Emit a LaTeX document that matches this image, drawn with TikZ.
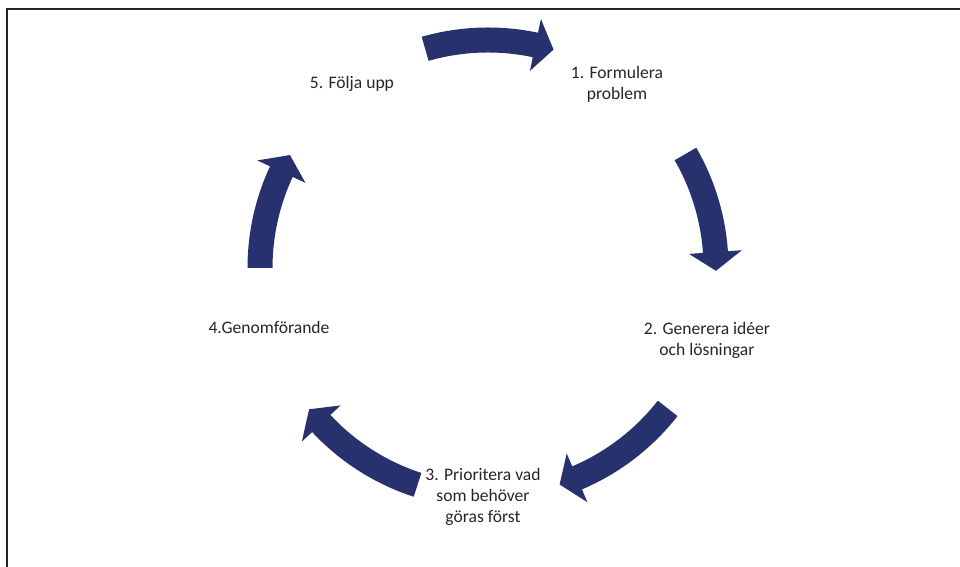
\documentclass[tikz,border=0pt]{standalone}
\usepackage{fontspec}
\setmainfont{Carlito}
\definecolor{cyclenavy}{RGB}{38,49,109}
\begin{document}
\begin{tikzpicture}[x=0.02cm,y=0.02cm,
   steptext/.style={align=center,font=\fontsize{10}{12}\selectfont,text=black!85,inner sep=0pt},
   blockarrow/.style={fill=cyclenavy}]
   \useasboundingbox (0,0) rectangle (960,567);
   \draw[line width=1.1pt,black!85] (7,0) -- (7,558) -- (960,558);
   \coordinate (c) at (488,299);

   \node[steptext] (s1) at (617,483) {1. Formulera\\problem};
   \node[steptext] (s2) at (707,227) {2. Generera idéer\\och lösningar};
   \node[steptext] (s3) at (483,70)  {3. Prioritera vad\\som behöver\\göras först};
   \node[steptext] (s4) at (269,240) {4.Genomförande};
   \node[steptext] (s5) at (352,483) {5. Följa upp};

   \begin{scope}[shift={(c)}]
   \foreach \a/\b in {106/78,30/4,-38/-67,-108/-137,180/155}
      \fill[blockarrow] (\a:240.5) arc[start angle=\a,end angle=\b,radius=240.5]
         -- (\b:254.5) -- (\b-4.7:228) -- (\b:201.5) -- (\b:215.5)
         arc[start angle=\b,end angle=\a,radius=215.5] -- cycle;
   \end{scope}
\end{tikzpicture}
\end{document}
